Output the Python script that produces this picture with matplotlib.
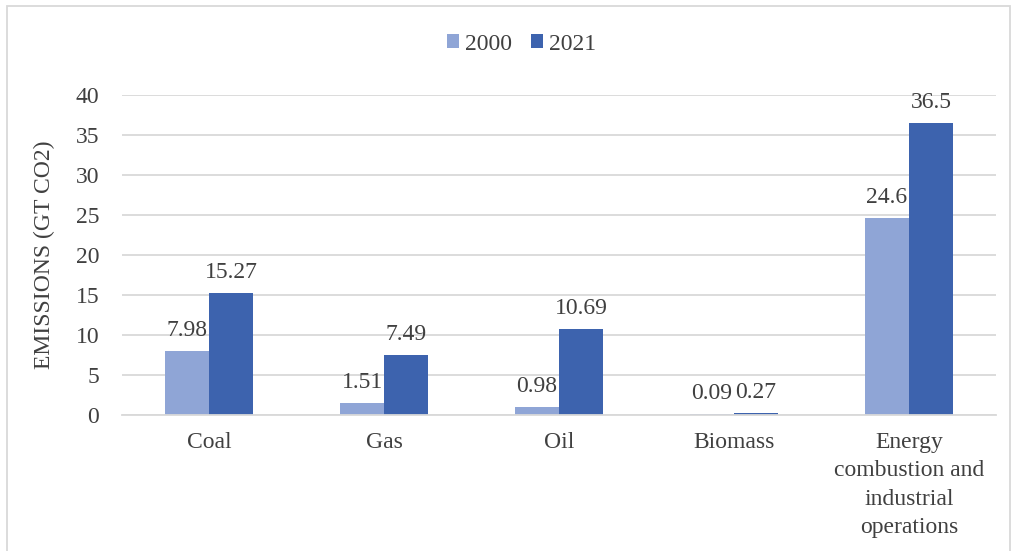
import numpy as np
import matplotlib.pyplot as plt
from matplotlib.patches import Rectangle

plt.rcParams["font.family"] = ["Liberation Serif", "DejaVu Serif"]

categories = ["Coal", "Gas", "Oil", "Biomass",
              "Energy\ncombustion and\nindustrial\noperations"]
years = ["2000", "2021"]
vals_2000 = [7.98, 1.51, 0.98, 0.09, 24.6]
vals_2021 = [15.27, 7.49, 10.69, 0.27, 36.5]
labels_2000 = ["7.98", "1.51", "0.98", "0.09", "24.6"]
labels_2021 = ["15.27", "7.49", "10.69", "0.27", "36.5"]

c2000 = "#8FA5D6"
c2021 = "#3D63AE"
txt = "#404040"

fig = plt.figure(figsize=(10.13, 5.51), dpi=100)
ax = fig.add_axes([0.12, 0.2468, 0.8637, 0.5808])

x = np.arange(len(categories))
w = 0.251
b1 = ax.bar(x - w / 2, vals_2000, w, color=c2000, label=years[0], zorder=2)
b2 = ax.bar(x + w / 2, vals_2021, w, color=c2021, label=years[1], zorder=2)

for bars, labs in [(b1, labels_2000), (b2, labels_2021)]:
    for r, lab in zip(bars, labs):
        ax.annotate(lab, (r.get_x() + r.get_width() / 2, r.get_height()),
                    xytext=(0, 11), textcoords="offset points",
                    ha="center", va="baseline", fontsize=17, color=txt)

ax.set_xlim(-0.5, len(categories) - 0.5)
ax.set_ylim(0, 40)
ax.set_yticks(range(0, 41, 5))
ax.set_xticks(x)
ax.set_xticklabels(categories, linespacing=1.47)
ax.tick_params(axis="both", length=0, labelsize=17, labelcolor=txt)
ax.tick_params(axis="y", pad=16)
ax.tick_params(axis="x", pad=12)
ax.grid(axis="y", color="#D9D9D9", linewidth=1.3, zorder=0)
for s in ["top", "right", "left"]:
    ax.spines[s].set_visible(False)
ax.spines["bottom"].set_color("#D9D9D9")
ax.spines["bottom"].set_linewidth(1.3)

ax.set_ylabel("EMISSIONS (GT CO2)", fontsize=17, color=txt, labelpad=15)

fig.legend(loc="center", bbox_to_anchor=(0.515, 0.92), ncol=2,
           frameon=False, fontsize=17, labelcolor=txt,
           handlelength=0.5, handleheight=0.5, handletextpad=0.25,
           columnspacing=0.8, borderpad=0)

fig.patches.append(Rectangle((7 / 1013, -0.1), 1003 / 1013, 1.0 - 6 / 551 + 0.1,
                             transform=fig.transFigure, fill=False,
                             edgecolor="#D9D9D9", linewidth=1.3))

fig.savefig("out.png", dpi=100)
